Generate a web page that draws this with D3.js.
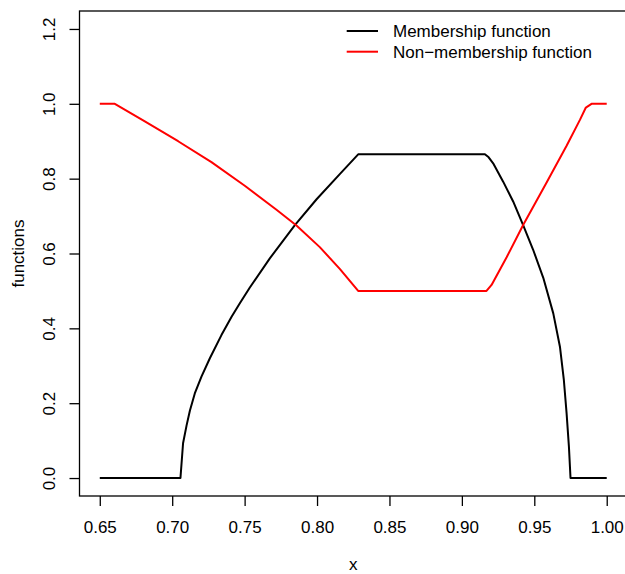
<!DOCTYPE html>
<html>
<head>
<meta charset="utf-8">
<script src="https://cdn.jsdelivr.net/npm/d3@7"></script>
<style>
    body { margin: 0; background: #fff; }
    svg { display: block; font-family: "Liberation Sans", Arial, sans-serif; }
    .tick text { font-size: 17px; fill: #000; }
    .axis-title, .legend text { font-size: 17px; fill: #000; }
</style>
</head>
<body>
<svg id="chart"></svg>
<script>
// Values.
const membershipX = [0.65, 0.7057, 0.7075, 0.7099, 0.7122, 0.7156, 0.7202, 0.726, 0.734, 0.741,
    0.7467, 0.7536, 0.7674, 0.7847, 0.7997, 0.8157, 0.8284, 0.9159, 0.9185, 0.9216,
    0.9285, 0.9354, 0.9423, 0.9492, 0.9562, 0.9631, 0.9677, 0.9704, 0.9723, 0.9739, 0.975, 1.0];
const membershipY = [0, 0, 0.093, 0.14, 0.18, 0.226, 0.271, 0.32, 0.382, 0.431,
    0.467, 0.509, 0.587, 0.676, 0.745, 0.812, 0.865, 0.865, 0.857, 0.841,
    0.792, 0.739, 0.676, 0.61, 0.535, 0.44, 0.351, 0.262, 0.173, 0.084, 0, 0];

const nonMembershipX = [0.65, 0.6604, 0.6811, 0.7041, 0.7271, 0.7501, 0.772, 0.7858, 0.8019, 0.8157,
    0.8284, 0.917, 0.9205, 0.9309, 0.9423, 0.9585, 0.9723, 0.9815, 0.9856, 0.9895, 1.0];
const nonMembershipY = [1.0, 1.0, 0.953, 0.9, 0.844, 0.781, 0.717, 0.675, 0.617, 0.559,
    0.5, 0.5, 0.516, 0.59, 0.676, 0.79, 0.888, 0.957, 0.99, 1.0, 1.0];

const xTicks = [0.65, 0.70, 0.75, 0.80, 0.85, 0.90, 0.95, 1.00];
const yTicks = [0.0, 0.2, 0.4, 0.6, 0.8, 1.0, 1.2];

const seriesNames = ["Membership function", "Non\u2212membership function"];
const seriesColors = ["#000000", "#ff0000"];

const width = 625, height = 574;
const margin = { top: 11, left: 79.5, bottom: 78 };
const plotRight = 627; // the R plot region runs a little past the page edge

const svg = d3.select("#chart").attr("width", width).attr("height", height);

// R pads each axis range by 4%.
const x = d3.scaleLinear().domain([0.636, 1.014]).range([margin.left, plotRight]);
const y = d3.scaleLinear().domain([-0.048, 1.248]).range([height - margin.bottom, margin.top]);

const line = d3.line()
    .x(d => x(d[0]))
    .y(d => y(d[1]));

const series = [
    d3.zip(membershipX, membershipY),
    d3.zip(nonMembershipX, nonMembershipY)
];

series.forEach((pts, i) => {
    svg.append("path")
        .datum(pts)
        .attr("fill", "none")
        .attr("stroke", seriesColors[i])
        .attr("stroke-width", 2)
        .attr("stroke-linejoin", "round")
        .attr("d", line);
});

// Axes, R style: ticks outside, labels rotated on y.
const xAxis = svg.append("g")
    .attr("transform", `translate(0,${y.range()[0]})`)
    .call(d3.axisBottom(x).tickValues(xTicks).tickFormat(d3.format(".2f"))
        .tickSize(10).tickSizeOuter(0).tickPadding(15));
xAxis.select(".domain").remove();
xAxis.selectAll(".tick line").attr("stroke-width", 1.3);

const yAxis = svg.append("g")
    .attr("transform", `translate(${margin.left},0)`)
    .call(d3.axisLeft(y).tickValues(yTicks).tickFormat(d3.format(".1f"))
        .tickSize(10).tickSizeOuter(0));
yAxis.select(".domain").remove();
yAxis.selectAll(".tick line").attr("stroke-width", 1.3);
yAxis.selectAll(".tick text")
    .attr("x", null)
    .attr("dy", "0.35em")
    .attr("text-anchor", "middle")
    .attr("transform", "translate(-30,0) rotate(-90)");

// Plot frame.
svg.append("rect")
    .attr("x", margin.left)
    .attr("y", margin.top)
    .attr("width", plotRight - margin.left)
    .attr("height", y.range()[0] - margin.top)
    .attr("fill", "none")
    .attr("stroke", "#000")
    .attr("stroke-width", 1.3);

// Axis titles.
svg.append("text")
    .attr("class", "axis-title")
    .attr("x", (margin.left + plotRight) / 2)
    .attr("y", 570)
    .attr("text-anchor", "middle")
    .text("x");

svg.append("text")
    .attr("class", "axis-title")
    .attr("transform", `translate(23.5,${(margin.top + y.range()[0]) / 2}) rotate(-90)`)
    .attr("text-anchor", "middle")
    .text("functions");

// Legend, top right, no box.
const legend = svg.append("g").attr("class", "legend");
seriesNames.forEach((name, i) => {
    const row = legend.append("g").attr("transform", `translate(0,${31 + i * 20.7})`);
    row.append("line")
        .attr("x1", 346.7).attr("x2", 378)
        .attr("stroke", seriesColors[i])
        .attr("stroke-width", 2);
    row.append("text")
        .attr("x", 393)
        .attr("dy", "0.35em")
        .text(name);
});
</script>
</body>
</html>
